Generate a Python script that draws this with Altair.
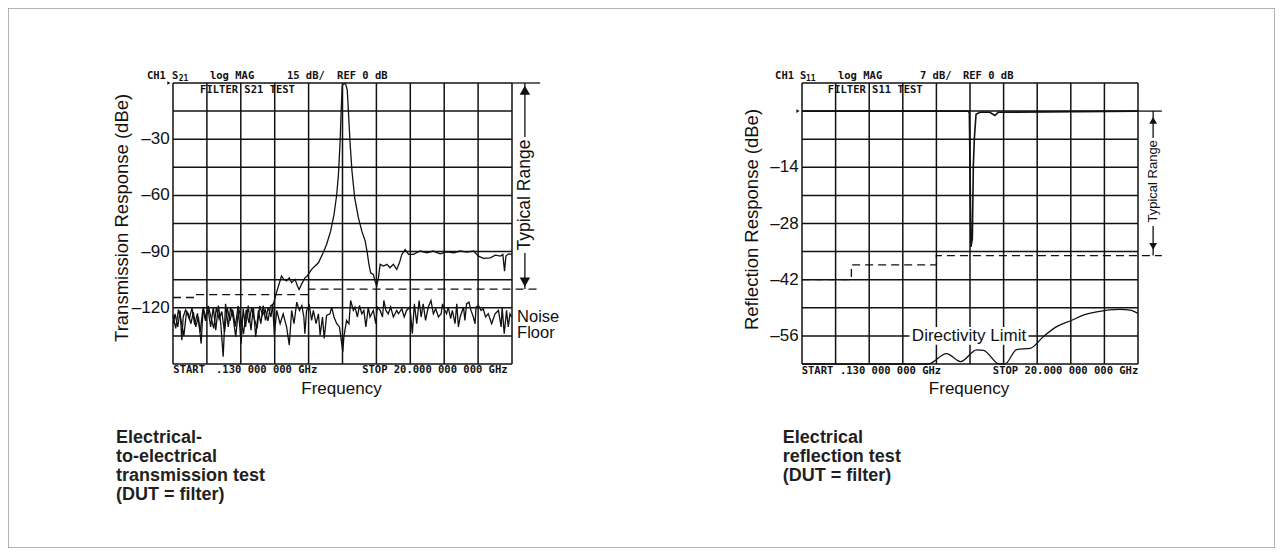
import altair as alt
import pandas as pd

SANS = "Liberation Sans, Arial, sans-serif"
MONO = "DejaVu Sans Mono"
INK = "#111111"

# ---------------- data: left panel (S21, 15 dB/div, REF 0 dB) ----------------
# x in grid divisions (START .130 GHz -> STOP 20 GHz), y in dB
noise_x = [0.01, 0.06, 0.14, 0.21, 0.26, 0.30, 0.37, 0.45, 0.53, 0.60, 0.67, 0.75, 0.83, 0.89, 0.96, 1.04, 1.11,
           1.19, 1.26, 1.34, 1.41, 1.48, 1.55, 1.63, 1.70, 1.78, 1.85, 1.93, 2.01, 2.07, 2.14, 2.22, 2.30, 2.37,
           2.44, 2.52, 2.59, 2.66, 2.73, 2.81, 2.89, 2.94, 2.99, 3.06,
           3.16, 3.25, 3.35, 3.43, 3.50, 3.57, 3.65, 3.73, 3.80, 3.86, 3.89, 3.94, 4.02, 4.09, 4.14, 4.22, 4.29,
           4.34, 4.41, 4.46, 4.53, 4.63, 4.68, 4.75, 4.83, 4.91, 4.95, 5.01, 5.04, 5.12, 5.19, 5.24, 5.32, 5.37,
           5.44, 5.50, 5.57, 5.63, 5.69, 5.76, 5.81, 5.91, 5.98, 6.03, 6.11, 6.18, 6.22, 6.28, 6.35, 6.42, 6.50,
           6.60, 6.65, 6.75, 6.82, 6.89, 6.99, 7.06, 7.12, 7.19, 7.26, 7.32, 7.38, 7.45, 7.53, 7.61, 7.68, 7.75,
           7.83, 7.91, 7.95, 8.00, 8.07, 8.12, 8.19, 8.24, 8.32, 8.37, 8.42, 8.47, 8.57, 8.61, 8.66, 8.73, 8.79,
           8.86, 8.91, 8.94, 9.01, 9.09, 9.15, 9.22, 9.30, 9.40, 9.50, 9.60, 9.68, 9.71, 9.77, 9.84, 9.89, 9.94,
           9.99]
noise_db = [-128.5, -123.2, -130.2, -121.4, -137.3, -124.9, -121.1, -123.2, -128.5, -122.3, -130.2, -124.9, -139.1,
            -119.6, -124.9, -121.4, -130.2, -119.6, -132, -118.8, -128.5, -146.1, -117.9, -130.2, -119.6, -125.8,
            -135.5, -121.4, -139.1, -120.5, -130.2, -118.8, -132, -119.6, -135.5, -121.4, -128.5, -118.8, -126.7,
            -119.6, -124.9, -117.9, -134.6, -121.4,
            -128.5, -123.2, -130.2, -139.9, -121.4, -128.5, -117, -121.4, -118.8, -124.9, -133.8, -121.4, -118.8,
            -126.7, -121.4, -128.5, -123.2, -134.6, -124.9, -136.4, -124.1, -123.2, -119.6, -124.9, -128.5, -130.2,
            -135.5, -143.5, -135.5, -126.7, -128.5, -116.1, -121.4, -119.6, -124.9, -118.8, -123.2, -121.4, -130.2,
            -119.6, -124.9, -121.4, -128.5, -119.6, -121.4, -124.9, -116.1, -121.4, -123.2, -119.6, -124.9, -121.4,
            -123.2, -120.5, -124.9, -121.4, -119.6, -133.8, -117.9, -128.5, -116.1, -124.9, -117.9, -126.7, -119.6,
            -116.1, -123.2, -120.5, -124.9, -123.2, -117.9, -120.5, -123.2, -119.6, -125.8, -121.4, -128.5, -117.9,
            -130.2, -124.9, -119.6, -126.7, -117.9, -117, -121.4, -124.9, -128.5, -119.6, -118.8, -121.4, -120.5,
            -124.9, -123.2, -128.5, -123.2, -121.4, -130.2, -119.6, -133.8, -121.4, -130.2, -123.2, -124.9]

s21_x = [0.0, 0.08, 0.16, 0.24, 0.32, 0.4, 0.48, 0.56, 0.64, 0.72, 0.8, 0.88, 0.96, 1.04, 1.12, 1.2, 1.28, 1.36,
         1.44, 1.52, 1.6, 1.68, 1.76, 1.84, 1.92, 2.0, 2.08, 2.16, 2.24, 2.32, 2.4, 2.48, 2.56, 2.64, 2.72, 2.8,
         2.88, 2.96,
         3.05, 3.2, 3.27, 3.35, 3.43, 3.5, 3.6, 3.67, 3.72, 3.79, 3.89, 3.96, 4.02, 4.09, 4.19, 4.29, 4.43, 4.53,
         4.65, 4.75, 4.83, 4.88, 4.93, 4.96, 4.99, 5.02, 5.09, 5.14, 5.18, 5.22, 5.28, 5.36, 5.47, 5.57, 5.67,
         5.73, 5.78, 5.83, 5.91, 5.96, 6.01, 6.06, 6.11, 6.21, 6.31, 6.4, 6.5, 6.6, 6.68, 6.75, 6.85, 6.95, 7.09,
         7.29, 7.49, 7.68, 7.88, 8.08, 8.28, 8.47, 8.67, 8.87, 9.01, 9.16, 9.36, 9.51, 9.66, 9.73, 9.78, 9.82,
         9.9, 10.0]
s21_db = [-124, -131, -121, -127, -135, -122, -126, -120, -129, -123, -133, -121, -127, -119, -125, -131, -120,
          -126, -122, -133, -120, -127, -121, -130, -119, -125, -134, -121, -128, -120, -126, -131, -119, -124,
          -121, -127, -119, -118,
          -112, -103, -104.8, -105.7, -104, -106.6, -104.8, -108.4, -110.2, -107.5, -104, -103, -101.3, -99.5,
          -97.7, -96, -90.6, -86.2, -79.1, -70.2, -59.5, -48.9, -31.1, -15.1, -1.8, -0.5, -0.5, -3.6, -16.9,
          -31.1, -47.1, -61.3, -72, -79.1, -84.4, -90.6, -96.8, -101.3, -102.2, -105.7, -108.4, -104, -96.8,
          -97.7, -96.8, -98.6, -96.8, -99.5, -96, -91.5, -88.9, -91.5, -91.5, -89.7, -90.6, -89.7, -91.2, -90.1,
          -90.6, -89.7, -90.3, -89.7, -92.4, -93.6, -93.3, -91.9, -92.4, -91.5, -100.4, -92.4, -91.2, -91.5]

left_ref_x = [0, 0.7, 0.7, 4.0, 4.0, 10.83]
left_ref_db = [-114.5, -114.5, -113, -113, -110, -110]
left_ticks = [-30, -60, -90, -120]
left_hgrid = [0, -15, -30, -45, -60, -75, -90, -105, -120, -135, -150]

# ---------------- data: right panel (S11, 7 dB/div, REF 0 dB) ----------------
s11_x = [0, 4.95, 4.98, 5.0, 5.03, 5.07, 5.1, 5.13, 5.18, 5.3, 5.59, 5.74, 5.84, 10]
s11_db = [0, 0, -0.5, -13.4, -33.8, -31.7, -13.4, -6.8, -0.8, -0.3, -0.3, -1.1, -0.3, 0]
dir_x = [0, 3.76, 4.3, 4.72, 5.2, 5.4, 5.87, 6.04, 6.39, 6.79, 7.18, 7.58, 8.03, 8.37, 8.77, 9.46, 9.76, 10]
dir_db = [-63, -63, -60.4, -62.4, -59.5, -59.6, -63, -63, -59.4, -59.1, -56.2, -53.7, -52.1, -50.8, -50.0,
          -49.4, -49.6, -50.4]
right_ref_x = [0, 1.47, 1.47, 4.0, 4.0, 10.71]
right_ref_db = [-42, -42, -38.3, -38.3, -36, -36]
right_ticks = [-14, -28, -42, -56]
right_hgrid = [7, 0, -7, -14, -21, -28, -35, -42, -49, -56, -63]

vgrid = list(range(11))

# ---------------- scales (pixel ranges inside one framed canvas) ----------------
XL = alt.Scale(domain=[0, 10], range=[165, 504], nice=False, zero=False)
YL = alt.Scale(domain=[-150, 0], range=[356, 75], nice=False, zero=False)
XR = alt.Scale(domain=[0, 10], range=[794, 1130], nice=False, zero=False)
YR = alt.Scale(domain=[-63, 7], range=[356, 75], nice=False, zero=False)


def xy(xs, ys):
    return dict(x=alt.X("x:Q", scale=xs, axis=None), y=alt.Y("y:Q", scale=ys, axis=None))


def line(xv, yv, xs, ys, **kw):
    df = pd.DataFrame({"x": xv, "y": yv, "i": list(range(len(xv)))})
    kw.setdefault("strokeWidth", 1.3)
    return alt.Chart(df).mark_line(color=INK, **kw).encode(order="i:Q", **xy(xs, ys))


def rules(rows, xs, ys, **kw):
    df = pd.DataFrame(rows, columns=["x", "x2", "y", "y2"])
    kw.setdefault("strokeWidth", 1.3)
    return alt.Chart(df).mark_rule(color=INK, **kw).encode(
        x2="x2:Q", y2="y2:Q", **xy(xs, ys))


def text(rows, xs, ys, **kw):
    df = pd.DataFrame(rows, columns=["t", "x", "y"])
    kw.setdefault("color", INK)
    return alt.Chart(df).mark_text(**kw).encode(text="t:N", **xy(xs, ys))


def tri(rows, xs, ys, shape, size):
    df = pd.DataFrame(rows, columns=["x", "y"])
    return alt.Chart(df).mark_point(shape=shape, filled=True, color=INK, size=size, opacity=1).encode(**xy(xs, ys))


def panel(xs, ys, top, bottom, hgrid):
    g = [(v, v, bottom, top) for v in vgrid] + [(0, 10, h, h) for h in hgrid]
    return rules(g, xs, ys, strokeWidth=1.5)


mono_kw = dict(font=MONO, fontSize=10.5, fontWeight="bold", align="left", baseline="middle")
cap_kw = dict(font=SANS, fontSize=18, fontWeight="bold", align="left", baseline="alphabetic", color="#231f20")

# ---------------- left panel ----------------
left_layers = [
    panel(XL, YL, 0, -150, left_hgrid),
    line(noise_x, noise_db, XL, YL),
    line(s21_x, s21_db, XL, YL),
    line(left_ref_x, left_ref_db, XL, YL, strokeDash=[8, 5]),
    rules([(10, 10.83, 0, 0), (10.38, 10.38, 0, -28.8), (10.38, 10.38, -90.7, -110)], XL, YL),
    tri([(10.38, -3.9)], XL, YL, "triangle-up", 110),
    tri([(10.38, -106.3)], XL, YL, "triangle-down", 110),
    tri([(-0.12, 0)], XL, YL, "triangle-right", 14),
    text([("CH1", -0.77, 3.9), ("S", -0.03, 3.9), ("log MAG", 1.09, 3.9), ("15 dB/", 3.36, 3.9),
          ("REF 0 dB", 4.84, 3.9), ("FILTER S21 TEST", 0.8, -3.9)], XL, YL, **mono_kw),
    text([("21", 0.17, 2.3)], XL, YL, font=MONO, fontSize=8, fontWeight="bold", align="left", baseline="middle"),
    text([("START", 0.01, -153.2), (".130 000 000 GHz", 1.27, -153.2), ("STOP 20.000 000 000 GHz", 5.58, -153.2)],
         XL, YL, **mono_kw),
    text([("\u2013" + str(abs(v)), -0.1, v) for v in left_ticks], XL, YL,
         font=SANS, fontSize=17, align="right", baseline="middle"),
    text([("Transmission Response (dBe)", -1.5, -72)], XL, YL, font=SANS, fontSize=18.5, angle=270,
         align="center", baseline="middle"),
    text([("Frequency", 4.97, -163.5)], XL, YL, font=SANS, fontSize=17, align="center", baseline="middle"),
    text([("Typical Range", 10.38, -59.8)], XL, YL, font=SANS, fontSize=17.5, angle=270,
         align="center", baseline="middle"),
    text([("Noise", 10.15, -127.6), ("Floor", 10.15, -136.2)], XL, YL, font=SANS, fontSize=16.5,
         align="left", baseline="alphabetic"),
    text([("Electrical-", -1.68, -192.2), ("to-electrical", -1.68, -202.3), ("transmission test", -1.68, -212.5),
          ("(DUT = filter)", -1.68, -222.6)], XL, YL, **cap_kw),
]

# ---------------- right panel ----------------
right_layers = [
    panel(XR, YR, 7, -63, right_hgrid),
    alt.Chart(pd.DataFrame({"x": [3.2], "x2": [6.74], "y": [-53.8], "y2": [-58.2]})).mark_rect(
        color="white").encode(x2="x2:Q", y2="y2:Q", **xy(XR, YR)),
    line(s11_x, s11_db, XR, YR, strokeWidth=1.6),
    line(dir_x, dir_db, XR, YR, interpolate="monotone"),
    line(right_ref_x, right_ref_db, XR, YR, strokeDash=[8, 5]),
    rules([(10, 10.71, 0, 0), (10.45, 10.45, 0, -6.7), (10.45, 10.45, -28.6, -36)], XR, YR),
    tri([(10.45, -2.3)], XR, YR, "triangle-up", 60),
    tri([(10.45, -33.7)], XR, YR, "triangle-down", 60),
    tri([(-0.12, 0)], XR, YR, "triangle-right", 14),
    text([("CH1", -0.8, 8.8), ("S", -0.06, 8.8), ("log MAG", 1.07, 8.8), ("7 dB/", 3.51, 8.8),
          ("REF 0 dB", 4.79, 8.8), ("FILTER S11 TEST", 0.77, 5.26)], XR, YR, **mono_kw),
    text([("11", 0.12, 8.1)], XR, YR, font=MONO, fontSize=8, fontWeight="bold", align="left", baseline="middle"),
    text([("START", -0.01, -64.75), (".130 000 000 GHz", 1.13, -64.75), ("STOP 20.000 000 000 GHz", 5.68, -64.75)],
         XR, YR, **mono_kw),
    text([("\u2013" + str(abs(v)), -0.1, v) for v in right_ticks], XR, YR,
         font=SANS, fontSize=17, align="right", baseline="middle"),
    text([("Reflection Response (dBe)", -1.5, -27)], XR, YR, font=SANS, fontSize=18.5, angle=270,
         align="center", baseline="middle"),
    text([("Frequency", 4.97, -69.3)], XR, YR, font=SANS, fontSize=17, align="center", baseline="middle"),
    text([("Typical Range", 10.45, -17.5)], XR, YR, font=SANS, fontSize=13, angle=270,
         align="center", baseline="middle"),
    text([("Directivity Limit", 4.97, -56)], XR, YR, font=SANS, fontSize=17, align="center",
         baseline="middle"),
    text([("Electrical", -0.57, -82.7), ("reflection test", -0.57, -87.4), ("(DUT = filter)", -0.57, -92.2)],
         XR, YR, **cap_kw),
]

left = alt.layer(*left_layers)
right = alt.layer(*right_layers)

chart = (
    alt.layer(left, right)
    .resolve_scale(x="independent", y="independent")
    .properties(width=1267, height=540, autosize=alt.AutoSizeParams(type="none"), padding=0,
                background="white")
    .configure_view(stroke="#9a9a9a", strokeWidth=1.5)
)

chart.save("out.html", embed_options={"renderer": "svg", "actions": False})
